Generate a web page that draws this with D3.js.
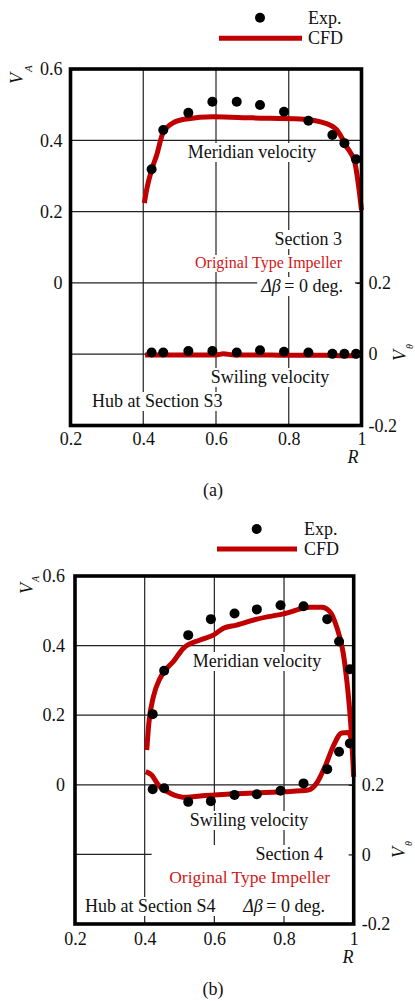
<!DOCTYPE html>
<html><head><meta charset="utf-8">
<script src="https://cdn.jsdelivr.net/npm/d3@7"></script>
<style>
body{margin:0;background:#fff}
svg{display:block}
text{font-family:"Liberation Serif","Times New Roman",serif;fill:#111}
</style>
</head><body>
<svg id="c" width="415" height="1001"></svg>
<script>
// ---------- shared ticks ----------
const rTicks  = [0.2, 0.4, 0.6, 0.8, 1];
const vaTicks = [0, 0.2, 0.4, 0.6];
const vtTicks = [-0.2, 0, 0.2];
const vaGrid  = [0, 0.2, 0.4];
const rGrid   = [0.4, 0.6, 0.8];

// ---------- panel (a) data ----------
const aExpR  = [0.423, 0.455, 0.524, 0.590, 0.657, 0.721, 0.787, 0.854, 0.920, 0.953, 0.985];
const aExpVA = [0.319, 0.429, 0.477, 0.508, 0.508, 0.499, 0.480, 0.455, 0.415, 0.392, 0.347];
const aExpVT = [0.005, 0.005, 0.009, 0.009, 0.005, 0.011, 0.007, 0.005, 0.001, 0.001, 0.001];
const aCfdR  = [0.403, 0.410, 0.423, 0.437, 0.454, 0.482, 0.519, 0.592, 0.700, 0.831, 0.904, 0.932, 0.959, 0.982, 0.991, 1.0];
const aCfdVA = [0.224, 0.265, 0.317, 0.359, 0.420, 0.449, 0.460, 0.466, 0.463, 0.460, 0.447, 0.429, 0.382, 0.336, 0.279, 0.204];
const aCfdTR = [0.405, 0.45, 0.50, 0.55, 0.60, 0.62, 0.65, 0.70, 0.80, 0.90, 0.95, 0.99];
const aCfdVT = [-0.002, -0.002, -0.002, -0.002, -0.002, 0.001, -0.002, -0.002, -0.003, -0.003, -0.004, -0.004];

// ---------- panel (b) data ----------
const bExpR  = [0.423, 0.456, 0.525, 0.590, 0.658, 0.722, 0.790, 0.856, 0.924, 0.958, 0.989];
const bExpVA = [0.203, 0.328, 0.430, 0.476, 0.492, 0.504, 0.516, 0.513, 0.476, 0.412, 0.332];
const bExpVT = [0.187, 0.190, 0.151, 0.153, 0.171, 0.173, 0.183, 0.204, 0.245, 0.295, 0.319];
const bCfdR  = [0.406, 0.412, 0.425, 0.444, 0.460, 0.482, 0.511, 0.559, 0.597, 0.626, 0.664, 0.722, 0.798, 0.875, 0.908, 0.932, 0.951, 0.970, 0.980, 0.985, 0.994, 1.0];
const bCfdVA = [0.100, 0.177, 0.253, 0.306, 0.330, 0.354, 0.392, 0.416, 0.430, 0.450, 0.459, 0.476, 0.491, 0.510, 0.510, 0.497, 0.454, 0.378, 0.301, 0.253, 0.138, 0.023];
const bCfdTR = [0.403, 0.420, 0.439, 0.473, 0.521, 0.559, 0.654, 0.798, 0.870, 0.894, 0.918, 0.941, 0.966, 0.984, 0.994];
const bCfdVT = [0.238, 0.228, 0.200, 0.176, 0.164, 0.168, 0.174, 0.180, 0.185, 0.205, 0.253, 0.310, 0.349, 0.350, 0.329];

const RED_LINE = "#c00000", RED_TEXT = "#d01818";
const FONT = '"Liberation Serif","Times New Roman",serif';
const svg = d3.select("#c");
const fmt = d => String(+(+d).toFixed(1));

function drawPanel(cfg) {
  const g = svg.append("g");
  const x  = d3.scaleLinear([0.2, 1], [cfg.left, cfg.right]);
  const yL = d3.scaleLinear([-0.4, 0.6], [cfg.bottom, cfg.top]);
  const yR = d3.scaleLinear([-0.2, 0.8], [cfg.bottom, cfg.top]);

  // grid
  const grid = g.append("g").attr("stroke", "#222").attr("stroke-width", 1.2);
  grid.selectAll("line.v").data(rGrid).join("line")
    .attr("x1", d => x(d)).attr("x2", d => x(d)).attr("y1", cfg.top).attr("y2", cfg.bottom);
  grid.selectAll("line.h").data(vaGrid).join("line")
    .attr("x1", cfg.left).attr("x2", cfg.right).attr("y1", d => yL(d)).attr("y2", d => yL(d));
  grid.append("line").attr("x1", cfg.left).attr("x2", x(0.42)).attr("y1", yR(0)).attr("y2", yR(0));

  // annotation blocks with white boxes
  cfg.blocks.forEach(block => {
    const bg = g.append("g");
    const rect = bg.append("rect").attr("fill", "#fff");
    const nodes = block.items.map(t => {
      const tx = bg.append("text").attr("x", t.x).attr("y", t.y)
        .attr("text-anchor", t.anchor || "start").attr("font-size", t.size || 18)
        .style("font-family", FONT).style("fill", t.fill || "#111");
      (t.parts || [{t: t.text}]).forEach(p => {
        tx.append("tspan").text(p.t).attr("font-style", p.italic ? "italic" : null);
      });
      return tx.node();
    });
    let x0 = Infinity, y0 = Infinity, x1 = -Infinity, y1 = -Infinity;
    nodes.forEach(n => { const b = n.getBBox(); x0 = Math.min(x0, b.x); y0 = Math.min(y0, b.y); x1 = Math.max(x1, b.x + b.width); y1 = Math.max(y1, b.y + b.height); });
    const pl = 3, pr = block.padR || 3;
    rect.attr("x", x0 - pl).attr("y", y0 + 1).attr("width", x1 - x0 + pl + pr).attr("height", y1 - y0 - 1);
  });

  // CFD lines
  const lineA = d3.line().x(d => x(d[0])).y(d => yL(d[1])).curve(d3.curveMonotoneX);
  const lineT = d3.line().x(d => x(d[0])).y(d => yR(d[1])).curve(d3.curveMonotoneX);
  g.append("path").attr("d", lineA(d3.zip(cfg.cfdR, cfg.cfdVA)))
    .attr("fill", "none").attr("stroke", RED_LINE).attr("stroke-width", 5);
  g.append("path").attr("d", lineT(d3.zip(cfg.cfdTR, cfg.cfdVT)))
    .attr("fill", "none").attr("stroke", RED_LINE).attr("stroke-width", 5);

  // Exp points
  g.append("g").selectAll("circle").data(d3.zip(cfg.expR, cfg.expVA)).join("circle")
    .attr("cx", d => x(d[0])).attr("cy", d => yL(d[1])).attr("r", 5).attr("fill", "#000");
  g.append("g").selectAll("circle").data(d3.zip(cfg.expR, cfg.expVT)).join("circle")
    .attr("cx", d => x(d[0])).attr("cy", d => yR(d[1])).attr("r", 5).attr("fill", "#000");

  // frame
  g.append("rect").attr("x", cfg.left).attr("y", cfg.top)
    .attr("width", cfg.right - cfg.left).attr("height", cfg.bottom - cfg.top)
    .attr("fill", "none").attr("stroke", "#000").attr("stroke-width", 3.6);

  // axes
  const styleAxis = sel => {
    sel.attr("font-family", FONT);
    sel.select(".domain").remove();
    sel.selectAll("text").attr("font-size", 18).style("fill", "#111").style("font-family", FONT);
    sel.selectAll("line").attr("stroke", "#111").attr("stroke-width", 1.2);
  };
  g.append("g").attr("transform", `translate(${cfg.left},0)`)
    .call(d3.axisLeft(yL).tickValues(vaTicks).tickFormat(fmt).tickSize(0).tickPadding(cfg.padL))
    .call(styleAxis);
  g.append("g").attr("transform", `translate(${cfg.right},0)`)
    .call(d3.axisRight(yR).tickValues(vtTicks).tickFormat(fmt).tickSize(-5).tickPadding(cfg.padR))
    .call(styleAxis);
  g.append("g").attr("transform", `translate(0,${cfg.bottom})`)
    .call(d3.axisBottom(x).tickValues(rTicks).tickFormat(fmt).tickSize(0).tickPadding(cfg.padB))
    .call(styleAxis);

  // axis titles
  const va = g.append("text").attr("transform", `translate(${cfg.vaX},${cfg.vaY}) rotate(-90)`)
    .attr("font-size", 18).style("font-family", FONT);
  va.append("tspan").text("V").attr("font-style", "italic");
  va.append("tspan").text("A").attr("font-style", "italic").attr("font-size", cfg.subSize).attr("dy", cfg.subDy).attr("dx", 1);

  const vt = g.append("text").attr("transform", `translate(${cfg.vtX},${cfg.vtY}) rotate(-90)`)
    .attr("font-size", 18).style("font-family", FONT);
  vt.append("tspan").text("V").attr("font-style", "italic");
  vt.append("tspan").text("θ").attr("font-style", "italic").attr("font-size", 10).attr("dy", 6.5).attr("dx", 1);

  g.append("text").attr("x", cfg.right - cfg.rOff).attr("y", cfg.bottom + cfg.rDy).style("font-family", FONT)
    .attr("text-anchor", "middle").attr("font-size", 18).attr("font-style", "italic").text("R");
  g.append("text").attr("x", 213).attr("y", cfg.bottom + cfg.capDy).style("font-family", FONT)
    .attr("text-anchor", "middle").attr("font-size", 18).text(cfg.caption);

  // legend
  const L = cfg.legend;
  g.append("circle").attr("cx", L.dotX).attr("cy", L.dotY).attr("r", 5).attr("fill", "#000");
  g.append("text").attr("x", L.textX).attr("y", L.expY).attr("font-size", 18).style("font-family", FONT).text("Exp.");
  g.append("line").attr("x1", L.lx1).attr("x2", L.lx2).attr("y1", L.ly).attr("y2", L.ly)
    .attr("stroke", RED_LINE).attr("stroke-width", 5);
  g.append("text").attr("x", L.textX).attr("y", L.cfdY).attr("font-size", 18).style("font-family", FONT).text("CFD");
}

const dbParts = [{t: "Δβ", italic: true}, {t: "\u2009= 0 deg."}];

drawPanel({
  left: 70.5, right: 361.5, top: 69, bottom: 425.5,
  padL: 8, padR: 7, padB: 7,
  expR: aExpR, expVA: aExpVA, expVT: aExpVT,
  cfdR: aCfdR, cfdVA: aCfdVA, cfdTR: aCfdTR, cfdVT: aCfdVT,
  vaX: 23, vaY: 84, subSize: 11, subDy: 8.5, vtX: 406, vtY: 361,
  rOff: 8.5, rDy: 37.5, capDy: 70, caption: "(a)",
  legend: {dotX: 260, dotY: 17.7, textX: 308, expY: 23.5, lx1: 219, lx2: 302, ly: 38.3, cfdY: 44},
  blocks: [
    {items: [{text: "Meridian velocity", x: 252, y: 158, anchor: "middle"}]},
    {items: [{text: "Section 3", x: 342, y: 245, anchor: "end"}]},
    {items: [{text: "Original Type Impeller", x: 342, y: 268, anchor: "end", size: 16, fill: RED_TEXT}]},
    {items: [{parts: dbParts, x: 343, y: 292, anchor: "end"}], padR: 12},
    {items: [{text: "Swiling velocity", x: 270, y: 383, anchor: "middle"}]},
    {items: [{text: "Hub at Section S3", x: 92, y: 407, anchor: "start"}]}
  ]
});

drawPanel({
  left: 75, right: 353.7, top: 576, bottom: 924,
  padL: 10, padR: 8, padB: 8,
  expR: bExpR, expVA: bExpVA, expVT: bExpVT,
  cfdR: bCfdR, cfdVA: bCfdVA, cfdTR: bCfdTR, cfdVT: bCfdVT,
  vaX: 33, vaY: 594, subSize: 10, subDy: 6, vtX: 405, vtY: 858,
  rOff: 5.7, rDy: 39, capDy: 71, caption: "(b)",
  legend: {dotX: 256.7, dotY: 529, textX: 304, expY: 535, lx1: 217, lx2: 297, ly: 549, cfdY: 554.5},
  blocks: [
    {items: [{text: "Meridian velocity", x: 257, y: 667, anchor: "middle"}]},
    {items: [{text: "Swiling velocity", x: 249, y: 826, anchor: "middle"}]},
    {items: [{text: "Section 4", x: 323, y: 860, anchor: "end"},
     {text: "Original Type Impeller", x: 330, y: 883, anchor: "end", size: 17.5, fill: RED_TEXT},
     {parts: dbParts, x: 325, y: 912, anchor: "end"}]},
    {items: [{text: "Hub at Section S4", x: 85, y: 912, anchor: "start"}]}
  ]
});
</script>
</body></html>
